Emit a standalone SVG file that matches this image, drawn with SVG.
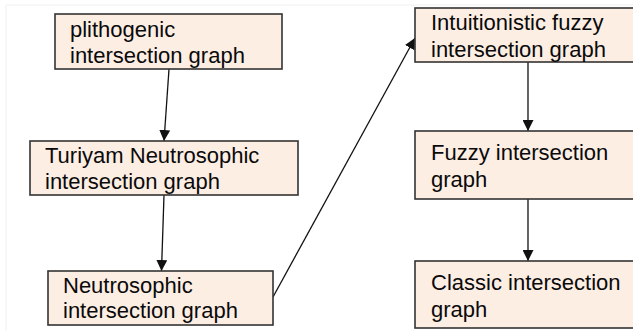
<svg xmlns="http://www.w3.org/2000/svg" width="633" height="331" viewBox="0 0 633 331">
<defs>
<style>
.box{fill:#FDEEE4;stroke:#333;stroke-width:1.6}
.t{font-family:"Liberation Sans",Arial,sans-serif;font-size:22px;fill:#0a0a0a}
.c{stroke:#111;stroke-width:1.3;fill:none;marker-end:url(#ah)}
</style>
<marker id="ah" viewBox="0 0 10 10" refX="10" refY="5" markerWidth="11" markerHeight="11" markerUnits="userSpaceOnUse" orient="auto">
<path d="M0,0 L10,5 L0,10 z" fill="#111"/>
</marker>
</defs>
<rect width="633" height="331" fill="#fff"/>
<path d="M6,331 V5 H633" fill="none" stroke="#f0f0f0" stroke-width="1"/>
<g id="connectors">
<line class="c" x1="169" y1="69" x2="164" y2="141"/>
<line class="c" x1="164" y1="195" x2="161.5" y2="271"/>
<line class="c" x1="273" y1="297" x2="415" y2="38"/>
<line class="c" x1="528" y1="62" x2="528" y2="131"/>
<line class="c" x1="528" y1="199" x2="528" y2="261"/>
</g>
<g id="n1">
<rect class="box" x="55" y="14" width="227" height="55"/>
<text class="t" x="70" y="37">plithogenic</text>
<text class="t" x="70" y="63">intersection graph</text>
</g>
<g id="n2">
<rect class="box" x="30" y="141" width="268" height="54"/>
<text class="t" x="45" y="163">Turiyam Neutrosophic</text>
<text class="t" x="45" y="189">intersection graph</text>
</g>
<g id="n3">
<rect class="box" x="48" y="271" width="225" height="54"/>
<text class="t" x="63" y="293">Neutrosophic</text>
<text class="t" x="63" y="318">intersection graph</text>
</g>
<g id="n4">
<rect class="box" x="415" y="8" width="230" height="54"/>
<text class="t" x="431" y="30">Intuitionistic fuzzy</text>
<text class="t" x="431" y="56.5">intersection graph</text>
</g>
<g id="n5">
<rect class="box" x="415" y="131" width="230" height="68"/>
<text class="t" x="431" y="160">Fuzzy intersection</text>
<text class="t" x="431" y="186.5">graph</text>
</g>
<g id="n6">
<rect class="box" x="415" y="261" width="230" height="67"/>
<text class="t" x="431" y="290">Classic intersection</text>
<text class="t" x="431" y="316.5">graph</text>
</g>
</svg>
